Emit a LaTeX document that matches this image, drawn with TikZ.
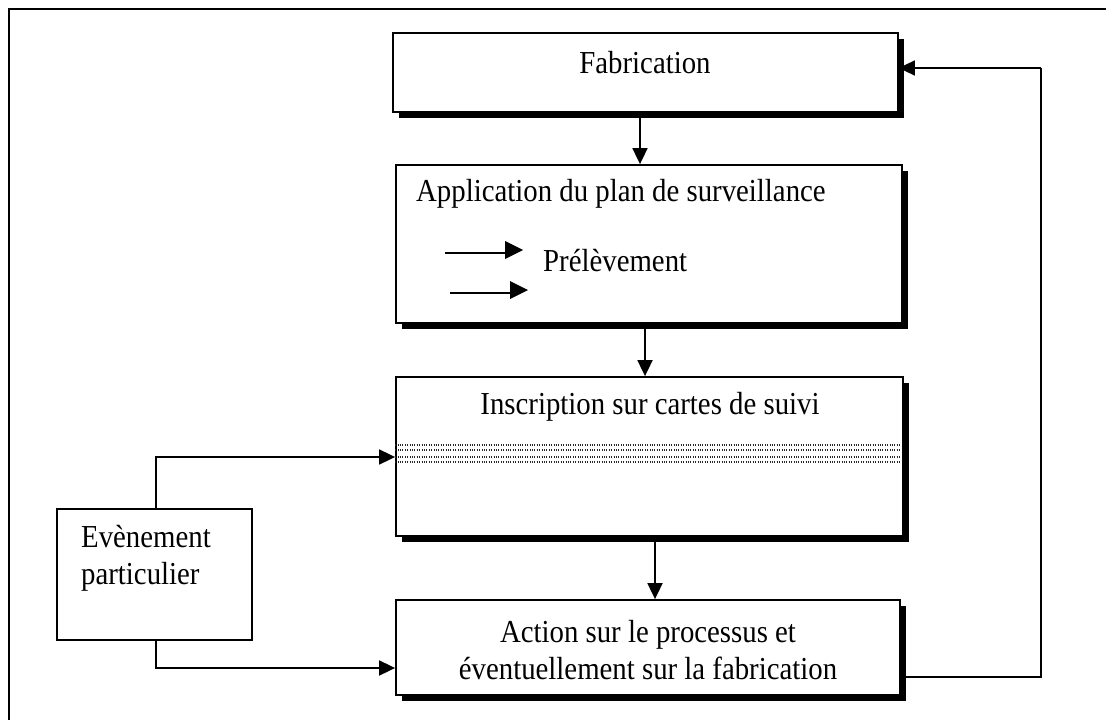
\documentclass[tikz,border=0pt]{standalone}
\usepackage{fontspec}
\setmainfont{Liberation Serif}[FakeStretch=0.9]
\usetikzlibrary{arrows.meta,shadows}
\begin{document}
\begin{tikzpicture}[x=1pt,y=-1pt,
  txt/.style={font=\fontsize{32}{37}\selectfont, inner sep=0pt},
  box/.style={draw, line width=1.8pt, fill=white, inner sep=0pt, rectangle},
  sbox/.style={box, drop shadow={shadow xshift=6pt, shadow yshift=-6pt, fill=black, opacity=1}},
  arr/.style={line width=1.8pt, -{Triangle[length=16pt,width=15pt]}},
  dl/.style={line width=1.5pt},
  dots/.style={line width=1.1pt, black!85, dash pattern=on 1.1pt off 1.3pt}
]
\useasboundingbox (0,0) rectangle (1106,720);
% frame
\draw[line width=2pt] (1106,9) -- (9,9) -- (9,720);

% boxes
\node[sbox, minimum width=505pt, minimum height=79pt] (fab) at (645.5,72.5) {};
\node[sbox, minimum width=506pt, minimum height=158pt] (app) at (649,244) {};
\node[sbox, minimum width=507pt, minimum height=159pt] (ins) at (649.5,456.5) {};
\node[sbox, minimum width=504pt, minimum height=95pt] (act) at (648,647.5) {};
\node[box, minimum width=195pt, minimum height=131pt] (ev) at (154.5,574.5) {};

% dotted band
\foreach \yy in {445,450,457,462}
  \draw[dots] (ins.west |- 0,\yy) -- ([xshift=-4pt]ins.east |- 0,\yy);

% texts
\node[txt] (fabt) at (645,63) {Fabrication};
\node[txt, anchor=west] (appt) at (416,194) {Application du plan de surveillance};
\node[txt, anchor=west] (prel) at (543,261) {Prélèvement};
\node[txt] (inst) at (650,407) {Inscription sur cartes de suivi};
\node[txt, align=center] (actt) at (648,650) {Action sur le processus et\\éventuellement sur la fabrication};
\node[txt, align=left, anchor=west] (evt) at (81,558) {Evènement\\particulier};

% double arrows
\coordinate (da1) at (445,250);
\coordinate (da2) at (450,290);
\foreach \c in {da1,da2}{
  \draw[dl] ([yshift=-3pt]\c) -- ++(62,0);
  \draw[dl] ([shift={(5,3)}]\c) -- ++(57,0);
  \fill ([shift={(60,-9)}]\c) -- ([shift={(78,0)}]\c) -- ([shift={(60,9)}]\c) -- cycle;
}

% connectors
\draw[arr] (fab.south -| 640,0) -- (app.north -| 640,0);
\draw[arr] (app.south -| 645,0) -- (ins.north -| 645,0);
\draw[arr] (ins.south -| 655,0) -- (act.north -| 655,0);
\coordinate (fbk) at (1041,68);
\draw[line width=1.8pt] (act.east |- 0,677) -| (fbk);
\draw[arr] (fbk) -- (fab.east |- fbk);
\draw[arr] (ev.north -| 156,0) |- (ins.west |- 0,457);
\draw[arr] (ev.south -| 156,0) |- (act.west |- 0,668);
\end{tikzpicture}
\end{document}
